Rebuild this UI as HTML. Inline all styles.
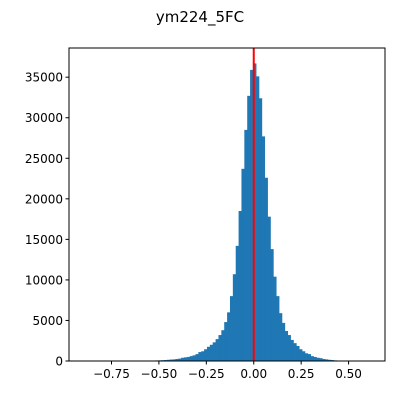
<!DOCTYPE html>
<html><head><meta charset="utf-8"><style>body{margin:0;background:#fff}svg{display:block;font-family:"DejaVu Sans","Liberation Sans",sans-serif}</style></head>
<body>
<svg id="chart" width="400" height="400">
<text x="200" y="22" font-size="15" text-anchor="middle">ym224_5FC</text>
<g id="bars"></g>
<g id="axes"></g>
</svg>
<script>
const binStart = -0.898;
const binWidth = 0.01515;
const counts = [5,5,5,5,5,5,5,5,5,5,8,8,8,10,10,10,12,15,15,20,25,30,40,50,60,70,80,100,120,150,180,200,250,300,400,450,500,600,700,850,1100,1200,1450,1750,2000,2300,2700,3200,3800,4800,6000,8000,10700,14200,18500,23700,28500,32700,35900,36700,35100,32400,27700,22600,17800,13800,10400,8000,5900,4700,3700,3200,2600,2200,1850,1450,1200,950,850,600,500,400,350,250,200,150,120,80,60,40,30,20,15,10,8,5,5,3,2,2];
const xTicks = [-0.75,-0.5,-0.25,0,0.25,0.5];
const xTickLabels = ["−0.75","−0.50","−0.25","0.00","0.25","0.50"];
const yTicks = [0,5000,10000,15000,20000,25000,30000,35000];
const vline = 0;
const L=69,R=385,T=48,B=361;
const xmin=-0.974,xmax=0.692,ymax=38600;
const xs=v=>L+(v-xmin)/(xmax-xmin)*(R-L);
const ys=v=>B-v/ymax*(B-T);
const NS="http://www.w3.org/2000/svg";
const bars=document.getElementById('bars'),axes=document.getElementById('axes');
function mk(tag,attrs,parent){const e=document.createElementNS(NS,tag);for(const k in attrs)e.setAttribute(k,attrs[k]);parent.appendChild(e);return e;}
counts.forEach((c,i)=>{
  const x0=xs(binStart+i*binWidth),x1=xs(binStart+(i+1)*binWidth);
  const r=mk('rect',{x:x0,y:ys(c),width:x1-x0+0.6,height:B-ys(c),fill:'#1f77b4'},bars);
  
  
});
const vl=mk('line',{x1:xs(vline),x2:xs(vline),y1:T,y2:B,stroke:'#ff0000','stroke-width':2},axes);


const fr=mk('rect',{x:L,y:T,width:R-L,height:B-T,fill:'none',stroke:'#000','stroke-width':1},axes);


xTicks.forEach((v,i)=>{
  const x=xs(v);
  mk('line',{x1:x,x2:x,y1:B,y2:B+3.5,stroke:'#000'},axes);
  const t=mk('text',{x:x,y:B+17,'font-size':12,'text-anchor':'middle'},axes);
  t.textContent=xTickLabels[i];
  
  
});
yTicks.forEach(v=>{
  const y=ys(v);
  mk('line',{x1:L-3.5,x2:L,y1:y,y2:y,stroke:'#000'},axes);
  const t=mk('text',{x:L-6,y:y+4.5,'font-size':12,'text-anchor':'end'},axes);
  t.textContent=String(v);
  
  
});
</script>
</body></html>
